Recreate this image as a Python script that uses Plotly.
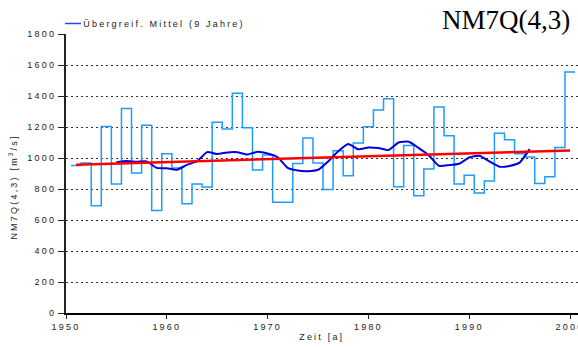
import plotly.graph_objects as go

# Annual NM7Q(4,3) values, one per hydrological year
years = list(range(1951, 2001))
q_values = [952, 968, 692, 1204, 832, 1320, 903, 1211, 662, 1028,
            935, 705, 832, 813, 1230, 1187, 1417, 1195, 922, 1019,
            714, 714, 965, 1129, 968, 796, 1047, 886, 1097, 1202,
            1310, 1383, 815, 1080, 757, 929, 1329, 1144, 832, 888,
            774, 852, 1159, 1118, 1028, 1006, 836, 879, 1068, 1555]

# Overlapping 9-year mean
ma_years = list(range(1955, 1997))
ma_values = [972, 980, 976, 978, 936, 934, 924, 956, 979, 1038,
             1026, 1036, 1037, 1023, 1040, 1029, 1005, 936, 919, 915,
             924, 978, 1044, 1091, 1056, 1068, 1064, 1051, 1100, 1105,
             1064, 1017, 950, 954, 963, 1003, 1014, 978, 944, 949,
             970, 1057]

# Linear trend end points
trend_years = [1951, 2000]
trend_values = [957, 1049]

y_ticks = [0, 200, 400, 600, 800, 1000, 1200, 1400, 1600, 1800]
x_ticks = [1950, 1960, 1970, 1980, 1990, 2000]

W, H = 578, 347
ML, MR, MT, MB = 66, 0, 34, 34
PW, PH = W - ML - MR, H - MT - MB


def px_x(px):
    return (px - ML) / PW


def px_y(py):
    return (H - MB - py) / PH


# each annual value is drawn as a block centred on its year
step_x = [y - 0.5 for y in years] + [years[-1] + 0.5]
step_y = q_values + [q_values[-1]]

fig = go.Figure()
fig.add_trace(go.Scatter(x=step_x, y=step_y, mode="lines", line_shape="hv",
                         line=dict(color="#1f9bff", width=1.5),
                         showlegend=False, hoverinfo="skip"))
fig.add_trace(go.Scatter(x=ma_years, y=ma_values, mode="lines",
                         line_shape="spline",
                         line=dict(color="#0000dd", width=2, smoothing=0.5),
                         showlegend=False))
fig.add_trace(go.Scatter(x=trend_years, y=trend_values, mode="lines",
                         line=dict(color="#ff0000", width=2.5),
                         showlegend=False))

tick_font = dict(family="Liberation Sans", size=9, color="#222222")

fig.update_layout(
    width=W, height=H,
    margin=dict(l=ML, r=MR, t=MT, b=MB, pad=0),
    paper_bgcolor="white", plot_bgcolor="white",
    template="none",
    showlegend=False,
    xaxis=dict(range=[1950, 1950 + PW / 10.08], tickvals=x_ticks,
               ticks="outside", ticklen=4, tickcolor="#222222", tickwidth=1,
               showline=True, linecolor="black", linewidth=1.5,
               showgrid=False, zeroline=False, tickfont=tick_font,
               ticklabeloverflow="allow", automargin=False),
    yaxis=dict(range=[0, 1800], tickvals=y_ticks,
               ticks="outside", ticklen=6, tickcolor="#222222", tickwidth=1,
               showline=True, linecolor="#222222", linewidth=2,
               showgrid=True, gridcolor="#333333", gridwidth=1,
               griddash="2px,3px", zeroline=False, tickfont=tick_font,
               automargin=False),
    shapes=[
        # legend sample
        dict(type="line", xref="paper", yref="paper",
             x0=px_x(65), x1=px_x(81), y0=px_y(23.5), y1=px_y(23.5),
             line=dict(color="#3c3cf0", width=1.5)),
    ],
    annotations=[
        dict(text="Übergreif. Mittel (9 Jahre)", xref="paper", yref="paper",
             x=px_x(164), y=px_y(24), xanchor="center", yanchor="middle",
             showarrow=False, font=dict(family="Liberation Sans", size=9,
                                        color="#222222")),
        dict(text="NM7Q(4,3)", xref="paper", yref="paper",
             x=px_x(572), y=px_y(20), xanchor="right", yanchor="middle",
             showarrow=False, font=dict(family="Liberation Serif", size=27,
                                        color="black")),
        dict(text="NM7Q(4,3) [m<sup>3</sup>/s]", xref="paper", yref="paper",
             x=px_x(13), y=px_y(187), xanchor="center", yanchor="middle",
             textangle=-90, showarrow=False,
             font=dict(family="Liberation Sans", size=9, color="#222222")),
        dict(text="Zeit [a]", xref="paper", yref="paper",
             x=px_x(322), y=px_y(337), xanchor="center", yanchor="middle",
             showarrow=False, font=dict(family="Liberation Sans", size=9,
                                        color="#222222")),
    ],
)

# widen the small label text
spacing_js = """
document.querySelectorAll('svg text').forEach(function (t) {
    var fs = parseFloat(t.style.fontSize || '0');
    if (fs > 0 && fs < 12) { t.style.letterSpacing = '2.2px'; }
});
"""

fig.write_html("out.html", post_script=spacing_js)
